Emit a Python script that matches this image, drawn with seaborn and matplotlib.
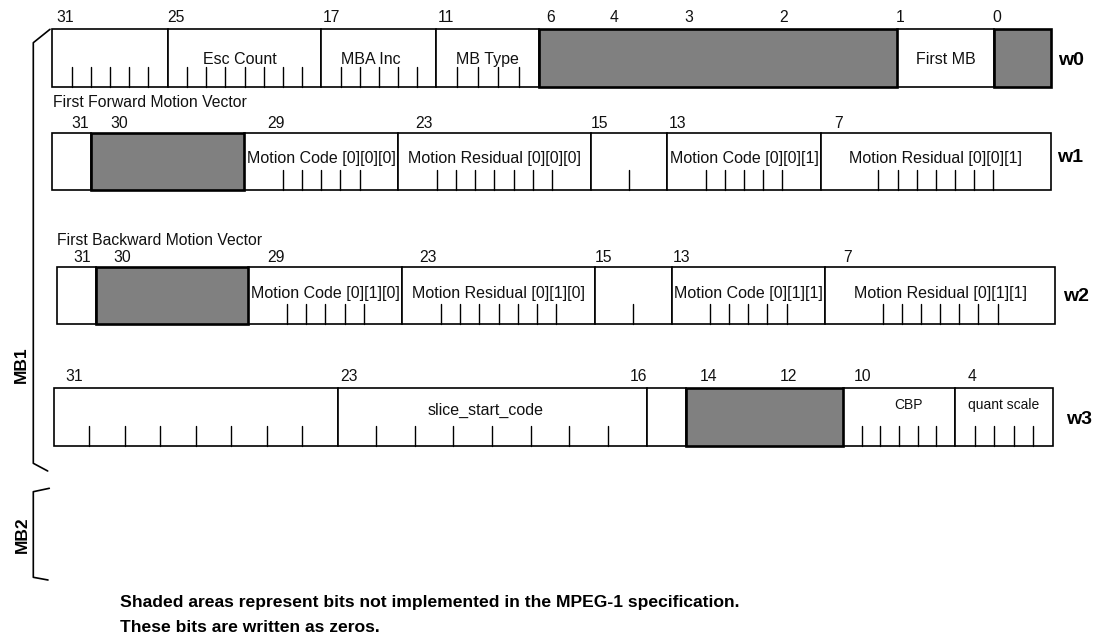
import matplotlib.pyplot as plt
import matplotlib.patches as mpatches
import seaborn as sns

# register layout: one row per word, field edges (px)
ROWS = ["w0", "w1", "w2", "w3"]
ROW_TOP = [29.3, 133.0, 266.5, 388.3]
ROW_H = 57.4

W0_EDGES = [52.3, 167.7, 321.4, 436.4, 539.3, 897.2, 994.0, 1051.0]
W0_LABELS = ["", "Esc Count", "MBA Inc", "MB Type", "", "First MB", ""]
W0_SHADED = [0, 0, 0, 0, 1, 0, 1]
W0_SEGS = [6, 8, 6, 5, 1, 1, 1]
W0_TICKS = [(1, 5), (1, 7), (1, 5), (1, 4), None, None, None]

MV_EDGES = [52.3, 91.3, 244.0, 398.2, 590.5, 667.3, 820.8, 1051.0]
W1_LABELS = ["", "", "Motion Code [0][0][0]", "Motion Residual [0][0][0]", "",
             "Motion Code [0][0][1]", "Motion Residual [0][0][1]"]
W2_LABELS = ["", "", "Motion Code [0][1][0]", "Motion Residual [0][1][0]", "",
             "Motion Code [0][1][1]", "Motion Residual [0][1][1]"]
MV_SHADED = [0, 1, 0, 0, 0, 0, 0]
MV_SEGS = [2, 8, 8, 10, 4, 8, 12]
MV_TICKS = [None, None, (2, 6), (2, 8), (2, 2), (2, 6), (3, 9)]
W2_SHIFT = 4.2

W3_EDGES = [53.6, 337.5, 646.8, 685.6, 843.1, 955.0, 1052.5]
W3_LABELS = ["", "slice_start_code", "", "", "CBP", "quant scale"]
W3_SHADED = [0, 0, 0, 1, 0, 0]
W3_SEGS = [8, 8, 1, 1, 6, 5]
W3_TICKS = [(1, 7), (1, 7), None, None, (1, 5), (1, 4)]

# bit numbers above each row
W0_BITS = ["31", "25", "17", "11", "6", "4", "3", "2", "1", "0"]
W0_BIT_X = [65, 176, 331, 446, 551, 614, 689, 784, 900, 997]
W1_BITS = ["31", "30", "29", "23", "15", "13", "7"]
W1_BIT_X = [80, 119, 276, 424, 599.5, 678, 839]
W2_BITS = ["31", "30", "29", "23", "15", "13", "7"]
W2_BIT_X = [82, 122, 276, 428, 603, 682, 848]
W3_BITS = ["31", "23", "16", "14", "12", "10", "4"]
W3_BIT_X = [74, 348.6, 638.7, 708.6, 788, 862.7, 972]
BIT_Y = [17, 123.3, 257.3, 376]

LABEL_Y = [59.5, 158.5, 293.5, 410]
LABEL_NUDGE = {"Esc Count": (-5, 0), "MBA Inc": (-8, 0), "slice_start_code": (-7, 0),
               "CBP": (9.5, -5.5), "quant scale": (0, -5)}
SMALL_LABELS = ["CBP", "quant scale"]

ROW_NAME_X = [1071, 1070, 1076, 1079]
ROW_NAME_Y = [60, 157.5, 296, 419]

SUBTITLES = ["First Forward Motion Vector", "First Backward Motion Vector"]
SUBTITLE_XY = [(53.3, 102), (57, 240)]

GROUPS = ["MB1", "MB2"]
GROUP_XY = [(21.7, 365), (22, 535)]
BRACKET_MB1 = [(50, 29.3), (33.3, 42.7), (33.3, 463.3), (47.7, 471)]
BRACKET_MB2 = [(49.3, 488.3), (33.3, 491.7), (33.3, 577.3), (48, 580)]

NOTE = ["Shaded areas represent bits not implemented in the MPEG-1 specification.",
        "These bits are written as zeros."]
NOTE_X = 120
NOTE_Y = [603, 627]

GREY = "#808080"

sns.set_theme(style="white")
plt.rcParams['font.family'] = ['Liberation Sans', 'DejaVu Sans']
plt.rcParams['text.color'] = 'black'

fig = plt.figure(figsize=(10.93, 6.44), dpi=100)
ax = fig.add_axes([0, 0, 1, 1])
ax.set_xlim(0, 1093)
ax.set_ylim(644, 0)
ax.axis('off')


def draw_row(top, edges, labels, shaded, segs, ticks, label_y, shift=0.0):
    edges = [e + shift for e in edges]
    # white fields first, shaded ones on top with a heavier outline
    for i in range(len(labels)):
        x0, x1 = edges[i], edges[i + 1]
        if shaded[i]:
            continue
        ax.add_patch(mpatches.Rectangle((x0, top), x1 - x0, ROW_H, facecolor="white",
                                        edgecolor="black", linewidth=1.2, zorder=2))
        if ticks[i] is not None:
            pitch = (x1 - x0) / segs[i]
            for k in range(ticks[i][0], ticks[i][1] + 1):
                xt = x0 + k * pitch
                ax.plot([xt, xt], [top + ROW_H * 0.65, top + ROW_H], color="black",
                        linewidth=1.0, zorder=3)
        if labels[i]:
            dx, dy = LABEL_NUDGE.get(labels[i], (0, 0))
            fs = 10 if labels[i] in SMALL_LABELS else 11.5
            ax.text((x0 + x1) / 2 + dx, label_y + dy, labels[i], ha="center", va="center",
                    fontsize=fs, color="#111111", zorder=4)
    for i in range(len(labels)):
        if not shaded[i]:
            continue
        x0, x1 = edges[i], edges[i + 1]
        ax.add_patch(mpatches.Rectangle((x0, top), x1 - x0, ROW_H, facecolor=GREY,
                                        edgecolor="black", linewidth=1.9, zorder=5))


draw_row(ROW_TOP[0], W0_EDGES, W0_LABELS, W0_SHADED, W0_SEGS, W0_TICKS, LABEL_Y[0])
draw_row(ROW_TOP[1], MV_EDGES, W1_LABELS, MV_SHADED, MV_SEGS, MV_TICKS, LABEL_Y[1])
draw_row(ROW_TOP[2], MV_EDGES, W2_LABELS, MV_SHADED, MV_SEGS, MV_TICKS, LABEL_Y[2], W2_SHIFT)
draw_row(ROW_TOP[3], W3_EDGES, W3_LABELS, W3_SHADED, W3_SEGS, W3_TICKS, LABEL_Y[3])

for bits, xs, y in zip([W0_BITS, W1_BITS, W2_BITS, W3_BITS],
                       [W0_BIT_X, W1_BIT_X, W2_BIT_X, W3_BIT_X], BIT_Y):
    for b, x in zip(bits, xs):
        ax.text(x, y, b, ha="center", va="center", fontsize=11.3, color="#111111")

for name, x, y in zip(ROWS, ROW_NAME_X, ROW_NAME_Y):
    ax.text(x, y, name, ha="center", va="center", fontsize=14, fontweight="bold")

for t, (x, y) in zip(SUBTITLES, SUBTITLE_XY):
    ax.text(x, y, t, ha="left", va="center", fontsize=11.3, color="#111111")

for bracket in [BRACKET_MB1, BRACKET_MB2]:
    ax.plot([p[0] for p in bracket], [p[1] for p in bracket], color="black", linewidth=1.2)
for g, (x, y) in zip(GROUPS, GROUP_XY):
    ax.text(x, y, g, ha="center", va="center", rotation=90, fontsize=12.5, fontweight="bold")

for line, y in zip(NOTE, NOTE_Y):
    ax.text(NOTE_X, y, line, ha="left", va="center", fontsize=12.6, fontweight="bold")

fig.savefig("out.png", dpi=100)
